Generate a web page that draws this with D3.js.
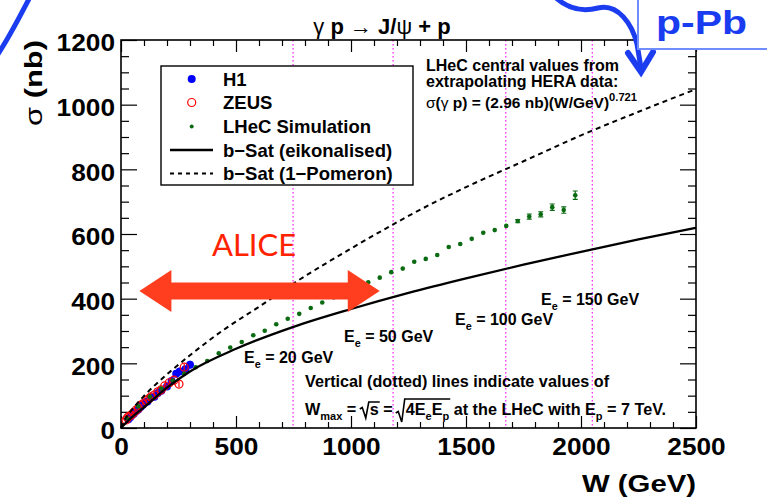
<!DOCTYPE html>
<html><head><meta charset="utf-8">
<script src="https://cdn.jsdelivr.net/npm/d3@7"></script>
<style>
html,body{margin:0;padding:0;background:#fff;}
svg{display:block;font-family:"Liberation Sans",Arial,Helvetica,sans-serif;}
</style></head><body>
<svg id="chart" width="767" height="500"></svg>
<script>
// ---- data ----
const h1W     = [32, 40, 48, 55, 65, 75, 85, 95, 105, 115, 130, 145, 160, 175, 200, 220, 240, 255, 280, 300];
const h1Sigma = [27, 33, 40, 44, 52, 57, 65, 72, 80, 82, 94, 97, 108, 115, 128, 145, 168, 175, 182, 196];
const h1Err   = [3, 3, 3, 4, 4, 4, 4, 5, 5, 5, 5, 6, 6, 7, 7, 8, 9, 9, 10, 12];

const zeusW     = [22, 28, 35, 45, 55, 65, 75, 85, 95, 110, 120, 130, 145, 160, 175, 190, 210, 230, 252, 275];
const zeusSigma = [25, 32, 36, 40, 48, 55, 60, 70, 75, 85, 90, 96, 102, 112, 118, 130, 140, 148, 136, 188];
const zeusErr   = [3, 3, 3, 3, 4, 4, 4, 5, 5, 5, 5, 6, 6, 6, 7, 7, 8, 8, 9, 10];

const lhecW = [25, 75, 125, 175, 225, 275, 325, 375, 425, 475, 525, 575, 625, 675, 725, 775, 825, 875, 925, 975,
               1025, 1075, 1125, 1175, 1225, 1275, 1325, 1375, 1425, 1475, 1525, 1575, 1625, 1675, 1725, 1775, 1825, 1875, 1925, 1975];
const lhecSigma = [30, 67, 97, 122, 147, 168, 188, 207, 231, 249, 266, 287, 301, 321, 338, 353, 371, 388, 404, 421,
                   437, 451, 465, 482, 493, 514, 523, 535, 560, 569, 585, 604, 612, 625, 640, 654, 661, 683, 674, 720];
const lhecErr = [1, 1, 1, 1, 1, 1, 1, 1, 1, 1, 1, 1, 1, 1, 1, 1, 1, 1, 1, 1,
                 2, 2, 2, 2, 2, 2, 2, 2, 3, 3, 3, 3, 4, 4, 5, 8, 8, 10, 10, 13];

const eikW     = [0, 20, 50, 100, 200, 300, 500, 750, 1000, 1250, 1500, 1750, 2000, 2250, 2500];
const eikSigma = [0, 15, 35, 64, 125, 175, 245, 313, 368, 418, 463, 505, 545, 583, 619];

const pomW     = [0, 20, 50, 100, 200, 300, 445, 600, 750, 1000, 1184, 1250, 1500, 1750, 2000, 2250, 2500];
const pomSigma = [0, 30, 59, 99, 166, 225, 303, 375, 447, 555, 630, 656, 745, 825, 905, 978, 1048];

// W_max = sqrt(4 Ee Ep), Ep = 7 TeV, for Ee = 20, 50, 100, 150 GeV
const wMaxLines = [748, 1183, 1673, 2049];

const xMajor = [0, 500, 1000, 1500, 2000, 2500];
const yMajor = [0, 200, 400, 600, 800, 1000, 1200];

const aliceW = [80, 1125];
const aliceSigma = 424;

// ---- layout ----
const svg = d3.select("#chart");
const x = d3.scaleLinear().domain([0, 2500]).range([121, 696]);
const y = d3.scaleLinear().domain([0, 1200]).range([428, 40]);

const xMinor = d3.range(0, 2501, 100).filter(v => v % 500 !== 0);
const yMinor = d3.range(0, 1201, 50).filter(v => v % 200 !== 0);

// W_max dotted lines
svg.append("g").selectAll("line").data(wMaxLines).join("line")
  .attr("x1", d => x(d)).attr("x2", d => x(d))
  .attr("y1", y(1200)).attr("y2", y(0))
  .attr("stroke", "#ff00ff").attr("stroke-width", 1.1)
  .attr("stroke-dasharray", "1.5,2.5");

// axes (ticks drawn inward)
function styleAxis(g) {
  g.select(".domain").remove();
  g.selectAll(".tick line").attr("stroke", "#000").attr("stroke-width", 1.2);
}
const tickFont = g => g.selectAll("text")
  .attr("font-size", 24).attr("font-weight", "bold").attr("fill", "#000")
  .attr("font-family", "'Liberation Sans', Arial, sans-serif")
  .attr("textLength", d => String(d).length * 14.6)
  .attr("lengthAdjust", "spacingAndGlyphs");

svg.append("g").attr("transform", `translate(0,${y(0)})`)
  .call(d3.axisBottom(x).tickValues(xMajor).tickSizeInner(-12).tickSizeOuter(0).tickPadding(10).tickFormat(d3.format("d")))
  .call(styleAxis).call(tickFont);
svg.append("g").attr("transform", `translate(0,${y(0)})`)
  .call(d3.axisBottom(x).tickValues(xMinor).tickSizeInner(-6).tickSizeOuter(0).tickFormat(""))
  .call(styleAxis);
svg.append("g").attr("transform", `translate(0,${y(1200)})`)
  .call(d3.axisTop(x).tickValues(xMajor).tickSizeInner(-12).tickSizeOuter(0).tickFormat(""))
  .call(styleAxis);
svg.append("g").attr("transform", `translate(0,${y(1200)})`)
  .call(d3.axisTop(x).tickValues(xMinor).tickSizeInner(-6).tickSizeOuter(0).tickFormat(""))
  .call(styleAxis);

svg.append("g").attr("transform", `translate(${x(0)},0)`)
  .call(d3.axisLeft(y).tickValues(yMajor).tickSizeInner(-16).tickSizeOuter(0).tickPadding(6).tickFormat(d3.format("d")))
  .call(styleAxis).call(tickFont)
  .call(g => g.selectAll("text").attr("dy", "0.45em"));
svg.append("g").attr("transform", `translate(${x(0)},0)`)
  .call(d3.axisLeft(y).tickValues(yMinor).tickSizeInner(-8).tickSizeOuter(0).tickFormat(""))
  .call(styleAxis);
svg.append("g").attr("transform", `translate(${x(2500)},0)`)
  .call(d3.axisRight(y).tickValues(yMajor).tickSizeInner(-16).tickSizeOuter(0).tickFormat(""))
  .call(styleAxis);
svg.append("g").attr("transform", `translate(${x(2500)},0)`)
  .call(d3.axisRight(y).tickValues(yMinor).tickSizeInner(-8).tickSizeOuter(0).tickFormat(""))
  .call(styleAxis);

// frame
svg.append("rect")
  .attr("x", x(0)).attr("y", y(1200))
  .attr("width", x(2500) - x(0)).attr("height", y(0) - y(1200))
  .attr("fill", "none").attr("stroke", "#000").attr("stroke-width", 1.6);

// ---- data points ----
function errBars(W, S, E, color) {
  svg.append("g").selectAll("line").data(W).join("line")
    .attr("x1", d => x(d)).attr("x2", d => x(d))
    .attr("y1", (d, i) => y(S[i] - E[i])).attr("y2", (d, i) => y(S[i] + E[i]))
    .attr("stroke", color).attr("stroke-width", 1.2);
}
errBars(h1W, h1Sigma, h1Err, "#0000ff");
svg.append("g").selectAll("circle").data(h1W).join("circle")
  .attr("cx", d => x(d)).attr("cy", (d, i) => y(h1Sigma[i])).attr("r", 4)
  .attr("fill", "#0000ff");

errBars(zeusW, zeusSigma, zeusErr, "#ff0000");
svg.append("g").selectAll("circle").data(zeusW).join("circle")
  .attr("cx", d => x(d)).attr("cy", (d, i) => y(zeusSigma[i])).attr("r", 4)
  .attr("fill", "none").attr("stroke", "#ff0000").attr("stroke-width", 1.2);

errBars(lhecW, lhecSigma, lhecErr, "#0b6b12");
svg.append("g").selectAll("circle").data(lhecW).join("circle")
  .attr("cx", d => x(d)).attr("cy", (d, i) => y(lhecSigma[i])).attr("r", 2.3)
  .attr("fill", "#0b6b12");
// caps on the larger error bars
svg.append("g").selectAll("path").data(lhecW.filter((d, i) => lhecErr[i] >= 5)).join("path")
  .attr("d", d => {
    const i = lhecW.indexOf(d);
    const cx = x(d), y1 = y(lhecSigma[i] + lhecErr[i]), y2 = y(lhecSigma[i] - lhecErr[i]);
    return `M${cx - 2.5},${y1}H${cx + 2.5}M${cx - 2.5},${y2}H${cx + 2.5}`;
  })
  .attr("stroke", "#0b6b12").attr("stroke-width", 1.1);

// ---- model curves ----
const line = d3.line().curve(d3.curveMonotoneX);
svg.append("path")
  .attr("d", line(eikW.map((w, i) => [x(w), y(eikSigma[i])])))
  .attr("fill", "none").attr("stroke", "#000").attr("stroke-width", 2.3);
svg.append("path")
  .attr("d", line(pomW.map((w, i) => [x(w), y(pomSigma[i])])))
  .attr("fill", "none").attr("stroke", "#000").attr("stroke-width", 2)
  .attr("stroke-dasharray", "5,4");

// ---- legend ----
const leg = svg.append("g");
leg.append("rect").attr("x", 161).attr("y", 66).attr("width", 252).attr("height", 119)
  .attr("fill", "#fff").attr("stroke", "#000").attr("stroke-width", 1.4);
const legRows = [
  { label: "H1", y: 79 },
  { label: "ZEUS", y: 102.5 },
  { label: "LHeC Simulation", y: 126.5 },
  { label: "b\u2212Sat (eikonalised)", y: 150 },
  { label: "b\u2212Sat (1\u2212Pomeron)", y: 173.5 }
];
leg.append("circle").attr("cx", 191.7).attr("cy", legRows[0].y).attr("r", 4).attr("fill", "#0000ff");
leg.append("circle").attr("cx", 191.7).attr("cy", legRows[1].y).attr("r", 4)
  .attr("fill", "none").attr("stroke", "#ff0000").attr("stroke-width", 1.2);
leg.append("circle").attr("cx", 191.7).attr("cy", legRows[2].y).attr("r", 2).attr("fill", "#0b6b12");
leg.append("line").attr("x1", 170).attr("x2", 213).attr("y1", legRows[3].y).attr("y2", legRows[3].y)
  .attr("stroke", "#000").attr("stroke-width", 2.3);
leg.append("line").attr("x1", 170).attr("x2", 213).attr("y1", legRows[4].y).attr("y2", legRows[4].y)
  .attr("stroke", "#000").attr("stroke-width", 2).attr("stroke-dasharray", "4,4");
leg.selectAll("text.lab").data(legRows).join("text").attr("class", "lab")
  .attr("x", 223).attr("y", d => d.y + 6.5)
  .attr("font-size", 18.5).attr("font-weight", "bold").text(d => d.label);

// ---- text helpers ----
function richText(parent, x0, y0, size, parts, anchor) {
  const t = parent.append("text").attr("x", x0).attr("y", y0)
    .attr("font-size", size).attr("font-weight", "bold").attr("text-anchor", anchor || "start");
  let shift = 0, idx = 0;
  const spans = [];
  parts.forEach(p => {
    const s = t.append("tspan").text(p.t);
    const target = p.sub ? size * 0.3 : p.sup ? -size * 0.42 : 0;
    if (target !== shift) { s.attr("dy", target - shift); shift = target; }
    if (p.sub || p.sup) s.attr("font-size", size * (p.sup ? 0.72 : 0.68));
    if (p.normal) s.attr("font-weight", "normal");
    if (p.dx) s.attr("dx", p.dx);
    spans.push({ start: idx, end: idx + p.t.length - 1, part: p });
    idx += p.t.length;
  });
  return { node: t.node(), sel: t, spans };
}
function radical(parent, x0, x1, base, top) {
  parent.append("path")
    .attr("d", `M${x0 - 10},${base - 6}L${x0 - 7.5},${base - 7.5}L${x0 - 4},${base + 3}L${x0 - 1},${top}L${x1 + 1},${top}`)
    .attr("fill", "none").attr("stroke", "#000").attr("stroke-width", 1.6);
}

// title
richText(svg, 382, 34, 22, [
  { t: "\u03b3", normal: true }, { t: " p " }, { t: "\u2192", normal: true }, { t: " J/" },
  { t: "\u03c8", normal: true }, { t: " + p" }
], "middle");

// axis titles
richText(svg.append("g").attr("transform", "translate(42,40) rotate(-90)"), 0, 0, 24, [
  { t: "\u03c3", normal: true }, { t: " (nb)" }
], "end").sel.attr("textLength", 86).attr("lengthAdjust", "spacingAndGlyphs");
svg.append("text").attr("x", 696).attr("y", 492).attr("text-anchor", "end")
  .attr("font-size", 24).attr("font-weight", "bold")
  .attr("textLength", 114).attr("lengthAdjust", "spacingAndGlyphs").text("W  (GeV)");

// extrapolation note
svg.append("text").attr("x", 426).attr("y", 71).attr("font-size", 16).attr("font-weight", "bold")
  .text("LHeC central values from");
svg.append("text").attr("x", 426).attr("y", 87).attr("font-size", 16).attr("font-weight", "bold")
  .text("extrapolating HERA data:");
richText(svg, 426, 108, 15.5, [
  { t: "\u03c3", normal: true }, { t: "(" }, { t: "\u03b3", normal: true }, { t: " p) = (2.96 nb)(W/GeV)" },
  { t: "0.721", sup: true }
]);

// beam energy labels at each W_max line
const eeLabels = [
  { e: "20", x: 244, y: 363 },
  { e: "50", x: 344, y: 342 },
  { e: "100", x: 455, y: 325 },
  { e: "150", x: 541, y: 305 }
];
eeLabels.forEach(l => richText(svg, l.x, l.y, 16, [
  { t: "E" }, { t: "e", sub: true }, { t: " = " + l.e + " GeV" }
]));

// explanatory note at the bottom
svg.append("text").attr("x", 305).attr("y", 387).attr("font-size", 16.2).attr("font-weight", "bold")
  .text("Vertical (dotted) lines indicate values of");
const wm = richText(svg, 305, 415, 16.2, [
  { t: "W" }, { t: "max", sub: true }, { t: " = " }, { t: "s", dx: 9 }, { t: " =" },
  { t: "4E", dx: 13 }, { t: "e", sub: true }, { t: "E" }, { t: "p", sub: true },
  { t: " at the LHeC with E" }, { t: "p", sub: true }, { t: " = 7 TeV." }
]);
{
  const n = wm.node, sp = wm.spans;
  const sStart = n.getStartPositionOfChar(sp[3].start).x;
  const sEnd = n.getEndPositionOfChar(sp[3].end).x;
  radical(svg, sStart, sEnd, 415, 402);
  const rStart = n.getStartPositionOfChar(sp[5].start).x;
  const rEnd = n.getEndPositionOfChar(sp[8].end).x;
  radical(svg, rStart, rEnd, 419, 399);
}

// ---- ALICE reach ----
const ax0 = x(aliceW[0]), ax1 = x(aliceW[1]), ay = y(aliceSigma);
const headL = 32, headH = 21, shaftH = 8.5;
svg.append("path")
  .attr("d", `M${ax0},${ay}L${ax0 + headL},${ay - headH}L${ax0 + headL},${ay - shaftH}L${ax1 - headL},${ay - shaftH}` +
             `L${ax1 - headL},${ay - headH}L${ax1},${ay}L${ax1 - headL},${ay + headH}L${ax1 - headL},${ay + shaftH}` +
             `L${ax0 + headL},${ay + shaftH}L${ax0 + headL},${ay + headH}Z`)
  .attr("fill", "#ff3d1f");
svg.append("text").attr("x", 254).attr("y", 256).attr("text-anchor", "middle")
  .attr("font-family", "Lato, 'Open Sans', sans-serif").attr("font-size", 31)
  .attr("fill", "#ff2200").text("ALICE");

// ---- p-Pb callout ----
svg.append("path").attr("d", "M-2,54C10,36 20,16 30,-3")
  .attr("fill", "none").attr("stroke", "#1c3cf0").attr("stroke-width", 5).attr("stroke-linecap", "round");
svg.append("path").attr("d", "M555,-3C568,9 583,12 598,8C618,3 632,24 637,44L641,68")
  .attr("fill", "none").attr("stroke", "#1c3cf0").attr("stroke-width", 5).attr("stroke-linecap", "round");
svg.append("path").attr("d", "M628,53L641,72L653,52")
  .attr("fill", "none").attr("stroke", "#1c3cf0").attr("stroke-width", 6)
  .attr("stroke-linejoin", "miter").attr("stroke-linecap", "round");
svg.append("rect").attr("x", 638).attr("y", -5).attr("width", 140).attr("height", 54)
  .attr("fill", "#fff").attr("stroke", "#6f8dff").attr("stroke-width", 2);
svg.append("text").attr("x", 656).attr("y", 34).attr("font-size", 34).attr("font-weight", "bold")
  .attr("fill", "#1a3cf0").attr("textLength", 91).attr("lengthAdjust", "spacingAndGlyphs").text("p-Pb");
</script>
</body></html>
